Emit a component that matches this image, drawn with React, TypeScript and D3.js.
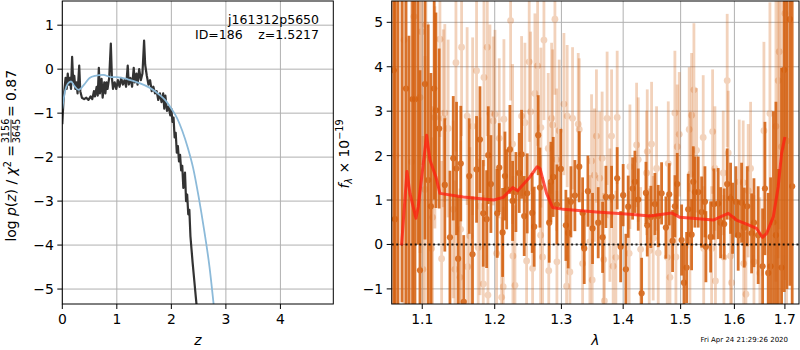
import * as d3 from 'd3';

// ---- left panel: log p(z) ----
const zBlack = [
  0.00, 0.02, 0.04, 0.06, 0.08, 0.10, 0.12, 0.14, 0.16, 0.18,
  0.20, 0.22, 0.24, 0.26, 0.28, 0.31, 0.33, 0.36, 0.40, 0.44,
  0.48, 0.52, 0.55, 0.58, 0.60, 0.63, 0.65, 0.67, 0.69, 0.72,
  0.74, 0.77, 0.79, 0.81, 0.83, 0.86, 0.89, 0.91, 0.93, 0.96,
  0.99, 1.02, 1.05, 1.08, 1.11, 1.14, 1.17, 1.20, 1.22, 1.25,
  1.28, 1.31, 1.33, 1.36, 1.38, 1.41, 1.44, 1.47, 1.50, 1.52,
  1.55, 1.58, 1.61, 1.64, 1.67, 1.70, 1.73, 1.76, 1.79, 1.82,
  1.85, 1.87, 1.89, 1.92, 1.95, 1.98, 2.00, 2.02, 2.04, 2.06,
  2.08, 2.10, 2.12, 2.14, 2.16, 2.18, 2.20, 2.22, 2.24, 2.25,
  2.27, 2.29, 2.31, 2.33, 2.35, 2.37, 2.39, 2.42, 2.45, 2.48,
];
const pBlack = [
  -1.25, -0.75, -0.45, -0.2, -0.45, -0.1, -0.35, -0.2, -0.45, 0.28,
  -0.3, -0.15, -0.45, -0.3, -0.55, 0.08, -0.5, -0.65, -0.68, -0.65,
  -0.7, -0.62, -0.68, -0.5, -0.62, -0.4, -0.6, 0.03, -0.55, -0.22,
  -0.65, -0.3, -0.55, -0.3, -0.45, -0.2, 0.58, -0.2, -0.45, -0.3,
  -0.45, -0.25, -0.4, -0.2, -0.35, -0.25, -0.4, 0.08, -0.35, -0.2,
  -0.4, 0.03, -0.3, -0.1, -0.35, 0.0, -0.25, -0.1, 0.65, 0.1,
  -0.15, -0.35, -0.25, -0.5, -0.4, -0.55, -0.5, -0.7, -0.55, -0.75,
  -0.55, -0.9, -0.6, -0.95, -0.85, -1.05, -0.9, -1.2, -1.1, -1.55,
  -1.45, -1.9, -1.75, -2.1, -1.95, -2.3, -2.2, -2.7, -2.5, -2.35,
  -3.0, -2.85, -3.3, -3.2, -3.8, -4.1, -4.4, -4.8, -5.2, -5.6,
];
const zBlue = [0, 0.05, 0.1, 0.16, 0.22, 0.3, 0.4, 0.5, 0.6, 0.75, 0.9, 1.0, 1.2, 1.4, 1.6, 1.8, 1.9, 2.0, 2.1, 2.2, 2.3, 2.4, 2.5, 2.6, 2.7, 2.78];
const pBlue = [-0.9, -0.5, -0.33, -0.28, -0.38, -0.47, -0.35, -0.2, -0.15, -0.13, -0.18, -0.18, -0.23, -0.31, -0.42, -0.6, -0.72, -0.9, -1.1, -1.4, -1.78, -2.25, -2.9, -3.65, -4.5, -5.4];
const zTicks = [0, 1, 2, 3, 4];
const pTicks = [-5, -4, -3, -2, -1, 0, 1];

// ---- right panel: spectrum ----
const lamDark = [
  1.0630, 1.0646, 1.0684, 1.0736, 1.0788, 1.0826, 1.0874, 1.0904, 1.0943, 1.0970,
  1.1036, 1.1079, 1.1115, 1.1159, 1.1182, 1.1226, 1.1302, 1.1372, 1.1417, 1.1462,
  1.1484, 1.1521, 1.1562, 1.1638, 1.1684, 1.1741, 1.1789, 1.1836, 1.1884, 1.1907,
  1.1945, 1.2036, 1.2065, 1.2114, 1.2148, 1.2173, 1.2221, 1.2260, 1.2309, 1.2358,
  1.2393, 1.2432, 1.2477, 1.2552, 1.2582, 1.2643, 1.2669, 1.2811, 1.2837, 1.2873,
  1.2930, 1.2991, 1.3070, 1.3106, 1.3149, 1.3212, 1.3281, 1.3335, 1.3361, 1.3420,
  1.3495, 1.3587, 1.3659, 1.3713, 1.3807, 1.3900, 1.3958, 1.4000, 1.4046, 1.4085,
  1.4160, 1.4199, 1.4256, 1.4314, 1.4388, 1.4411, 1.4474, 1.4544, 1.4602, 1.4661,
  1.4737, 1.4796, 1.4856, 1.4897, 1.4939, 1.5018, 1.5060, 1.5108, 1.5137, 1.5199,
  1.5229, 1.5259, 1.5320, 1.5383, 1.5444, 1.5462, 1.5550, 1.5612, 1.5692, 1.5737,
  1.5805, 1.5862, 1.5927, 1.5965, 1.6029, 1.6073, 1.6139, 1.6189, 1.6248, 1.6334,
  1.6380, 1.6463, 1.6551, 1.6597, 1.6663, 1.6711, 1.6768, 1.6818, 1.6868, 1.6932,
  1.6986, 1.7041, 1.7102, 1.7149,
];
const fluxDark = [
  3.92, 0.57, -2.0, 6.2, 3.51, -1.8, 3.27, 3.27, 6.0, -0.58,
  3.61, 1.45, 0.86, 3.51, 3.02, 2.61, 1.34, 0.16, 1.94, 1.71,
  -0.32, 1.82, -1.29, 1.54, -0.22, 1.69, 2.36, 0.70, 0.57, 2.01,
  1.36, 0.70, 1.73, 0.27, 1.54, 1.24, 2.14, 0.98, 1.18, 1.61,
  2.03, 0.64, 1.15, 0.71, 0.40, 2.46, 1.28, 0.49, 1.41, 1.52,
  0.90, 1.70, 0.43, 0.26, 0.96, 1.10, 1.75, 0.71, -0.09, 1.20,
  0.36, 0.49, 0.16, 1.07, 1.07, 1.49, -0.05, 1.11, -0.56, 0.85,
  1.26, 1.41, 1.01, -1.10, 1.16, 0.43, 0.62, 0.91, 0.64, 1.15,
  0.38, 1.13, 0.08, 0.86, 1.36, 0.10, -0.86, -0.52, 0.79, 0.22,
  1.41, 1.18, 1.18, 0.73, 0.96, -0.05, 0.17, 0.91, 0.92, 0.49,
  0.46, 1.36, 1.04, 0.59, 0.96, 0.21, 0.94, 0.38, 0.86, 0.25,
  0.49, 0.21, -0.49, 1.26, -0.64, -0.49, 0.50, 0.21, -1.80, -0.52,
  3.93, 7.0, 5.07, 1.31,
];
const errDark = [
  6.0, 5.5, 7.5, 7.5, 6.0, 6.5, 5.0, 5.0, 6.0, 4.5,
  3.5, 3.5, 3.0, 2.5, 2.2, 1.8, 1.5, 1.5, 1.4, 1.5,
  1.4, 1.3, 1.5, 1.3, 1.3, 1.2, 1.2, 1.2, 1.1, 1.1,
  1.1, 1.0, 1.0, 1.0, 1.0, 0.9, 1.0, 0.9, 0.9, 0.9,
  1.0, 0.9, 0.9, 0.9, 0.9, 0.9, 0.9, 0.9, 0.9, 0.9,
  0.9, 0.9, 0.8, 0.8, 0.8, 0.8, 0.8, 0.8, 0.8, 0.8,
  0.8, 0.8, 0.8, 0.7, 0.7, 0.7, 0.8, 0.7, 0.8, 0.7,
  0.7, 0.7, 0.7, 0.8, 0.7, 0.7, 0.7, 0.7, 0.7, 0.7,
  0.7, 0.7, 0.7, 0.7, 0.7, 0.8, 0.9, 0.8, 0.8, 0.8,
  0.8, 0.8, 0.8, 0.8, 0.8, 0.8, 0.8, 0.8, 0.8, 0.8,
  0.8, 0.8, 0.8, 0.8, 0.8, 0.8, 0.9, 0.9, 0.9, 0.9,
  1.0, 1.1, 1.3, 1.5, 1.8, 2.0, 2.5, 3.0, 3.5, 4.5,
  5.0, 8.0, 6.0, 8.0,
];

const lamLight = [
  1.0659, 1.0762, 1.0860, 1.0891, 1.0970, 1.0992, 1.1009, 1.1036, 1.1049, 1.1124,
  1.1137, 1.1168, 1.1236, 1.1259, 1.1281, 1.1302, 1.1347, 1.1417, 1.1440, 1.1454,
  1.1509, 1.1519, 1.1532, 1.1609, 1.1616, 1.1648, 1.1686, 1.1741, 1.1764, 1.1789,
  1.1836, 1.1846, 1.1893, 1.1903, 1.1931, 1.1978, 1.2003, 1.2027, 1.2065, 1.2100,
  1.2123, 1.2133, 1.2231, 1.2260, 1.2265, 1.2295, 1.2393, 1.2443, 1.2468, 1.2507,
  1.2528, 1.2558, 1.2593, 1.2634, 1.2680, 1.2684, 1.2710, 1.2730, 1.2796, 1.2804,
  1.2848, 1.2864, 1.2899, 1.2925, 1.2930, 1.2965, 1.3039, 1.3081, 1.3090, 1.3133,
  1.3175, 1.3265, 1.3281, 1.3335, 1.3452, 1.3479, 1.3489, 1.3525, 1.3558, 1.3612,
  1.3651, 1.3677, 1.3688, 1.3733, 1.3779, 1.3807, 1.3833, 1.3878, 1.3900, 1.4101,
  1.4114, 1.4228, 1.4256, 1.4297, 1.4400, 1.4411, 1.4445, 1.4486, 1.4514, 1.4573,
  1.4602, 1.4761, 1.4779, 1.4809, 1.4897, 1.4915, 1.4939, 1.4975, 1.5155, 1.5168,
  1.5181, 1.5199, 1.5241, 1.5290, 1.5412, 1.5421, 1.5568, 1.5587, 1.5630, 1.5640,
  1.5787, 1.5800, 1.5862, 1.5882, 1.5927, 1.5946, 1.6093, 1.6170, 1.6180, 1.6223,
  1.6267, 1.6314, 1.6380, 1.6497, 1.6577, 1.6697, 1.6818, 1.6864, 1.6884, 1.6932,
  1.7000, 1.7034,
];
const fluxLight = [
  2.0, 4.6, 1.86, 5.13, 3.31, 4.79, -0.56, 1.24, 4.94, -0.09,
  0.61, 2.86, 4.62, -0.32, 2.84, 2.96, 2.61, 0.79, -0.56, 4.09,
  -0.74, 0.34, 4.44, 2.89, -0.50, 0.19, 2.66, 3.91, -0.07, 0.86,
  -0.89, 3.76, 4.44, -1.14, 2.95, 2.78, 2.93, -0.20, 2.39, -1.19,
  -0.95, 2.82, 5.04, 2.26, -0.26, -0.92, 2.89, 2.74, -0.37, 4.11,
  2.99, -0.54, 3.40, 4.02, 0.21, 2.63, -0.28, 4.60, 2.16, -0.59,
  2.84, 2.69, 5.07, 1.91, -0.39, 2.56, 3.16, -0.94, 2.89, -0.62,
  2.84, 2.71, 2.59, -0.43, 0.06, 1.88, -0.80, 1.56, 2.44, 1.49,
  1.94, -0.34, -1.27, 2.84, 0.66, 2.44, -0.49, -0.29, 2.86, -0.20,
  1.75, 2.24, 1.91, -0.11, 1.61, 2.09, -0.14, 2.26, 0.14, 1.71,
  -0.19, -0.29, 1.82, -0.74, 2.96, -0.28, 2.20, 2.48, 2.59, -0.02,
  1.58, 2.91, 3.48, 2.12, 2.41, -0.09, -0.09, 2.54, 1.71, -0.82,
  1.61, -0.29, 3.69, 2.06, -0.26, -0.86, 1.41, 1.39, -0.43, -1.12,
  1.21, 1.71, -0.39, -0.64, 2.56, 2.95, 2.66, 3.69, 4.34, 2.20,
  5.2, 2.33,
];
const errLight = [
  6.0, 6.0, 4.0, 4.5, 3.5, 3.0, 3.0, 3.0, 3.0, 2.5,
  2.5, 2.5, 2.2, 2.2, 2.0, 2.0, 2.0, 2.0, 2.0, 2.0,
  2.0, 2.0, 2.0, 2.0, 2.0, 2.0, 2.0, 2.0, 2.0, 2.0,
  2.0, 2.0, 2.0, 2.0, 2.0, 1.9, 1.9, 1.9, 1.8, 1.8,
  1.8, 1.8, 1.8, 1.8, 1.8, 1.8, 1.8, 1.8, 1.8, 1.8,
  1.8, 1.8, 1.8, 1.8, 1.8, 1.8, 1.8, 1.8, 1.7, 1.7,
  1.7, 1.7, 1.7, 1.6, 1.6, 1.6, 1.6, 1.6, 1.6, 1.6,
  1.6, 1.6, 1.6, 1.6, 1.5, 1.5, 1.5, 1.5, 1.5, 1.5,
  1.5, 1.5, 1.5, 1.5, 1.5, 1.5, 1.5, 1.5, 1.5, 1.4,
  1.4, 1.4, 1.4, 1.4, 1.4, 1.4, 1.4, 1.4, 1.4, 1.4,
  1.4, 1.4, 1.4, 1.4, 1.4, 1.4, 1.4, 1.4, 1.4, 1.4,
  1.4, 1.4, 1.5, 1.4, 1.4, 1.4, 1.4, 1.4, 1.4, 1.4,
  1.4, 1.4, 1.5, 1.4, 1.4, 1.4, 1.4, 1.4, 1.4, 1.4,
  1.5, 1.5, 1.5, 1.7, 2.0, 2.5, 3.5, 4.0, 4.0, 5.0,
  6.0, 6.0,
];

const lamModel = [1.0730, 1.0800, 1.0839, 1.0917, 1.0947, 1.1058, 1.1102, 1.1182, 1.1236, 1.1555, 1.1986, 1.2123, 1.2263, 1.2334, 1.2518, 1.2627, 1.2670, 1.2770, 1.2864, 1.3028, 1.3561, 1.4114, 1.4457, 1.4839, 1.4987, 1.5599, 1.5882, 1.6042, 1.6236, 1.6431, 1.6551, 1.6631, 1.6764, 1.6864, 1.6932, 1.7000];
const fluxModel = [-0.02, 1.64, 1.15, 0.59, 0.85, 2.46, 1.90, 1.52, 1.15, 1.07, 1.00, 1.06, 1.28, 1.21, 1.52, 1.75, 1.71, 1.15, 0.83, 0.79, 0.73, 0.68, 0.64, 0.71, 0.61, 0.55, 0.70, 0.55, 0.46, 0.36, 0.16, 0.25, 0.62, 1.30, 2.05, 2.42];
const lamTicks = [1.1, 1.2, 1.3, 1.4, 1.5, 1.6, 1.7];
const fTicks = [-1, 0, 1, 2, 3, 4, 5];

const FONT = "'DejaVu Sans', sans-serif";
const FS = 13.9;
const GRID = '#b0b0b0';
const ORANGE = '#d4600f';

const L = { x0: 62.3, x1: 333.3, y0: 1, y1: 304 };
const R = { x0: 391.7, x1: 799, y0: 1, y1: 304 };

const minus = (v: number) => (v < 0 ? '\u2212' + String(-v) : String(v));

export default function App() {
  const zX = d3.scaleLinear().domain([0, 4.97]).range([L.x0, L.x1]);
  const pY = d3.scaleLinear().domain([-5.34, 1.55]).range([L.y1, L.y0]);
  const lX = d3.scaleLog().domain([1.0604, 1.729]).range([R.x0, R.x1]);
  const fY = d3.scaleLinear().domain([-1.34, 5.48]).range([R.y1, R.y0]);

  const blackPath = d3.line<number>().x((_, i) => zX(zBlack[i])).y((d) => pY(d))(pBlack) || '';
  const bluePath = d3.line<number>().x((_, i) => zX(zBlue[i])).y((d) => pY(d)).curve(d3.curveMonotoneX)(pBlue) || '';
  const modelPath = d3.line<number>().x((_, i) => lX(lamModel[i])).y((d) => fY(d))(fluxModel) || '';

  const errbars = (lam: number[], flux: number[], err: number[], op: number, r: number, key: string) =>
    lam.map((l, i) => (
      <g key={key + i} opacity={op}>
        <line x1={lX(l)} x2={lX(l)} y1={fY(flux[i] - err[i])} y2={fY(flux[i] + err[i])} stroke={ORANGE} strokeWidth={2.8} />
        <circle cx={lX(l)} cy={fY(flux[i])} r={r} fill={ORANGE} />
      </g>
    ));

  return (
    <svg width={800} height={350} style={{ position: 'absolute', left: 0, top: 0, background: '#fff' }} fontFamily={FONT}>
      <defs>
        <clipPath id="clipL"><rect x={L.x0} y={L.y0} width={L.x1 - L.x0} height={L.y1 - L.y0} /></clipPath>
        <clipPath id="clipR"><rect x={R.x0} y={R.y0} width={R.x1 - R.x0} height={R.y1 - R.y0} /></clipPath>
      </defs>
      <rect width={800} height={350} fill="#fff" />

      {/* left panel */}
      <g>
        {zTicks.map((t) => (
          <line key={'gz' + t} x1={zX(t)} x2={zX(t)} y1={L.y0} y2={L.y1} stroke={GRID} strokeWidth={1} />
        ))}
        {pTicks.map((t) => (
          <line key={'gp' + t} x1={L.x0} x2={L.x1} y1={pY(t)} y2={pY(t)} stroke={GRID} strokeWidth={1} />
        ))}
        <g clipPath="url(#clipL)">
          <path d={blackPath} fill="none" stroke="#333" strokeWidth={2.2} strokeLinejoin="round" />
          <path d={bluePath} fill="none" stroke="#8cbad9" strokeWidth={1.8} />
        </g>
        <rect x={L.x0} y={L.y0} width={L.x1 - L.x0} height={L.y1 - L.y0} fill="none" stroke="#000" strokeWidth={1} />
        {zTicks.map((t) => (
          <g key={'tz' + t}>
            <line x1={zX(t)} x2={zX(t)} y1={L.y1} y2={L.y1 + 5} stroke="#000" />
            <text x={zX(t)} y={324} textAnchor="middle" fontSize={FS}>{minus(t)}</text>
          </g>
        ))}
        {pTicks.map((t) => (
          <g key={'tp' + t}>
            <line x1={L.x0 - 5} x2={L.x0} y1={pY(t)} y2={pY(t)} stroke="#000" />
            <text x={L.x0 - 8.5} y={pY(t) + 5} textAnchor="end" fontSize={FS}>{minus(t)}</text>
          </g>
        ))}
        <text x={319} y={24} textAnchor="end" fontSize={12.5}>j161312p5650</text>
        <text x={195} y={38.5} textAnchor="start" fontSize={12.5}>ID=186</text>
        <text x={319} y={38.5} textAnchor="end" fontSize={12.5}>z=1.5217</text>
        <text x={zX(2.485)} y={345} textAnchor="middle" fontSize={FS} fontStyle="italic">z</text>
        <g transform="translate(16,154) rotate(-90)">
          <text x={9} y={0} textAnchor="end" fontSize={FS}>
            log <tspan fontStyle="italic">p</tspan>(<tspan fontStyle="italic">z</tspan>) / <tspan fontStyle="italic">χ</tspan>
            <tspan dy={-5.5} fontSize={9.7}>2</tspan>
            <tspan dy={5.5}>{' ='}</tspan>
          </text>
          <text x={23} y={-7} textAnchor="middle" fontSize={9.7}>3156</text>
          <line x1={11.5} x2={34.5} y1={-5} y2={-5} stroke="#000" strokeWidth={0.8} />
          <text x={23} y={3.5} textAnchor="middle" fontSize={9.7}>3645</text>
          <text x={37} y={0} textAnchor="start" fontSize={FS}>= 0.87</text>
        </g>
      </g>

      {/* right panel */}
      <g>
        {lamTicks.map((t) => (
          <line key={'gl' + t} x1={lX(t)} x2={lX(t)} y1={R.y0} y2={R.y1} stroke={GRID} strokeWidth={1} />
        ))}
        {fTicks.map((t) => (
          <line key={'gf' + t} x1={R.x0} x2={R.x1} y1={fY(t)} y2={fY(t)} stroke={GRID} strokeWidth={1} />
        ))}
        <g clipPath="url(#clipR)">
          {errbars(lamLight, fluxLight, errLight, 0.28, 3.4, 'l')}
          {errbars(lamDark, fluxDark, errDark, 0.88, 3.1, 'd')}
          <line x1={R.x0} x2={R.x1} y1={fY(0)} y2={fY(0)} stroke="#000" strokeWidth={2} strokeDasharray="2,2.6" opacity={0.85} />
          <path d={modelPath} fill="none" stroke="#ff1e10" strokeWidth={3} strokeOpacity={0.75} strokeLinejoin="round" />
        </g>
        <rect x={R.x0} y={R.y0} width={R.x1 - R.x0} height={R.y1 - R.y0} fill="none" stroke="#000" strokeWidth={1} />
        {lamTicks.map((t) => (
          <g key={'tl' + t}>
            <line x1={lX(t)} x2={lX(t)} y1={R.y1} y2={R.y1 + 5} stroke="#000" />
            <text x={lX(t)} y={324} textAnchor="middle" fontSize={FS}>{t.toFixed(1)}</text>
          </g>
        ))}
        {fTicks.map((t) => (
          <g key={'tf' + t}>
            <line x1={R.x0 - 5} x2={R.x0} y1={fY(t)} y2={fY(t)} stroke="#000" />
            <text x={R.x0 - 8.5} y={fY(t) + 5} textAnchor="end" fontSize={FS}>{minus(t)}</text>
          </g>
        ))}
        <text x={(R.x0 + R.x1) / 2} y={345} textAnchor="middle" fontSize={FS} fontStyle="italic">λ</text>
        <g transform="translate(349,154) rotate(-90)">
          <text x={0} y={0} textAnchor="middle" fontSize={FS}>
            <tspan fontStyle="italic">f</tspan>
            <tspan dy={3} fontSize={9.7} fontStyle="italic">λ</tspan>
            <tspan dy={-3}>{' × 10'}</tspan>
            <tspan dy={-6} fontSize={9.7}>−19</tspan>
          </text>
        </g>
        <text x={788} y={342} textAnchor="end" fontSize={7}>Fri Apr 24 21:29:26 2020</text>
      </g>
    </svg>
  );
}
